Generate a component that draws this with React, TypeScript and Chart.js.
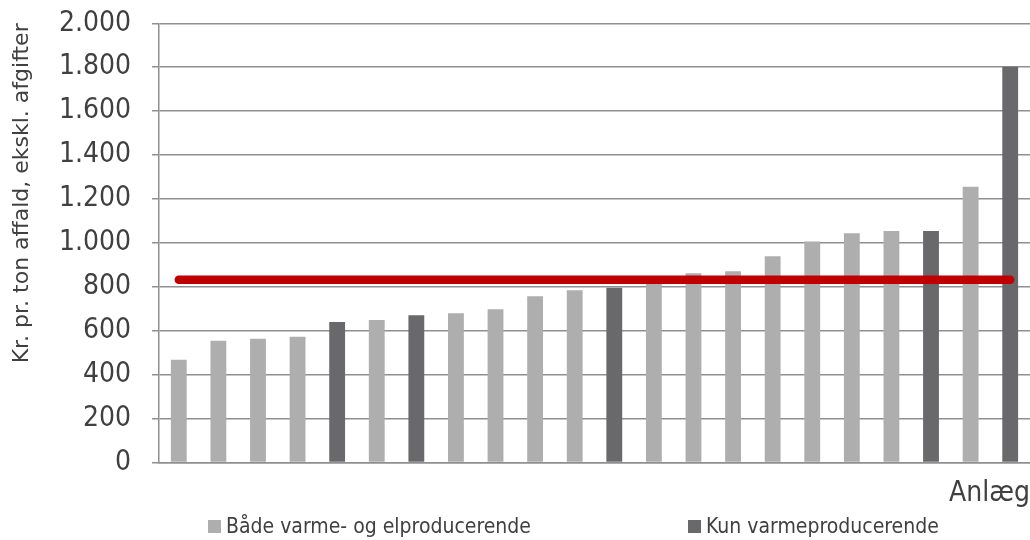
import React, { useEffect, useRef } from "react";
import { Chart, registerables } from "chart.js";

Chart.register(...registerables);

const categories = ["1", "2", "3", "4", "5", "6", "7", "8", "9", "10", "11", "12", "13", "14", "15", "16", "17", "18", "19", "20", "21", "22"];
const bothLabel = "Både varme- og elproducerende";
const heatLabel = "Kun varmeproducerende";
const bothValues = [467, 554, 563, 572, null, 649, null, 679, 697, 757, 784, null, 825, 861, 871, 939, 1006, 1044, 1054, null, 1255, null];
const heatOnlyValues = [null, null, null, null, 639, null, 670, null, null, null, null, 796, null, null, null, null, null, null, null, 1054, null, 1802];
const averageValue = 832;
const yTitle = "Kr. pr. ton affald, ekskl. afgifter";
const xTitle = "Anlæg";

const COND = '"DejaVu Sans Condensed", "DejaVu Sans"';
const FONT = '"DejaVu Sans"';
const TEXT = "#404040";
const GRID = "#8f8f8f";

function fmt(v: number): string {
  const s = String(Math.round(v));
  return s.replace(/\B(?=(\d{3})+(?!\d))/g, ".");
}

const legendPlugin = {
  id: "bottomLegend",
  afterDraw(chart: any) {
    const ctx = chart.ctx;
    const items = chart.data.datasets.filter((d: any) => d.type === "bar");
    const starts = [208, 688];
    ctx.save();
    ctx.font = `21px ${COND}`;
    ctx.textBaseline = "middle";
    ctx.textAlign = "left";
    items.forEach((ds: any, i: number) => {
      ctx.fillStyle = ds.backgroundColor;
      ctx.fillRect(starts[i], 520, 13, 13);
      ctx.fillStyle = TEXT;
      ctx.fillText(ds.label, starts[i] + 18, 528);
    });
    ctx.restore();
  },
};

export default function App() {
  const ref = useRef<HTMLCanvasElement | null>(null);
  useEffect(() => {
    if (!ref.current) return;
    const chart = new Chart(ref.current, {
      type: "bar",
      data: {
        labels: categories,
        datasets: [
          {
            type: "line",
            label: "Gennemsnit",
            data: categories.map(() => averageValue),
            borderColor: "#C00000",
            borderWidth: 8.5,
            borderCapStyle: "round",
            pointRadius: 0,
            fill: false,
            order: 0,
          } as any,
          {
            type: "bar",
            label: bothLabel,
            data: bothValues,
            backgroundColor: "#AFAEAF",
            categoryPercentage: 1,
            barPercentage: 0.4,
            order: 1,
          },
          {
            type: "bar",
            label: heatLabel,
            data: heatOnlyValues,
            backgroundColor: "#69696B",
            categoryPercentage: 1,
            barPercentage: 0.4,
            order: 1,
          },
        ],
      },
      options: {
        animation: false,
        responsive: false,
        maintainAspectRatio: false,
        layout: { padding: { top: 23.3, right: 0, bottom: 29, left: 0 } },
        plugins: {
          legend: { display: false },
          tooltip: { enabled: false },
        },
        scales: {
          x: {
            stacked: true,
            grid: { display: false, drawTicks: false, tickLength: 0 },
            border: { display: true, color: GRID, width: 1.5 },
            ticks: { display: false },
            title: {
              display: true,
              text: xTitle,
              align: "end",
              color: TEXT,
              font: { family: COND, size: 28 },
              padding: { top: 15, bottom: 0 },
            },
          },
          y: {
            min: 0,
            max: 2000,
            grid: { color: GRID, lineWidth: 1.5, tickLength: 7, drawTicks: true },
            border: { display: true, color: GRID, width: 1.5 },
            ticks: {
              stepSize: 200,
              color: TEXT,
              font: { family: COND, size: 28 },
              padding: 21,
              callback: (v: any) => fmt(Number(v)),
            },
            title: {
              display: true,
              text: yTitle,
              align: "end",
              color: TEXT,
              font: { family: FONT, size: 22 },
              padding: { top: 9, bottom: 0 },
            },
            afterFit: (scale: any) => {
              scale.width = 159;
              scale.paddingTop = 0;
              scale.paddingBottom = 0;
            },
          },
        },
      },
      plugins: [legendPlugin],
    });
    return () => chart.destroy();
  }, []);
  return (
    <div style={{ position: "fixed", left: 0, top: 0, width: 1030, height: 540, background: "#fff" }}>
      <canvas ref={ref} width={1030} height={540} style={{ width: 1030, height: 540 }} />
    </div>
  );
}
